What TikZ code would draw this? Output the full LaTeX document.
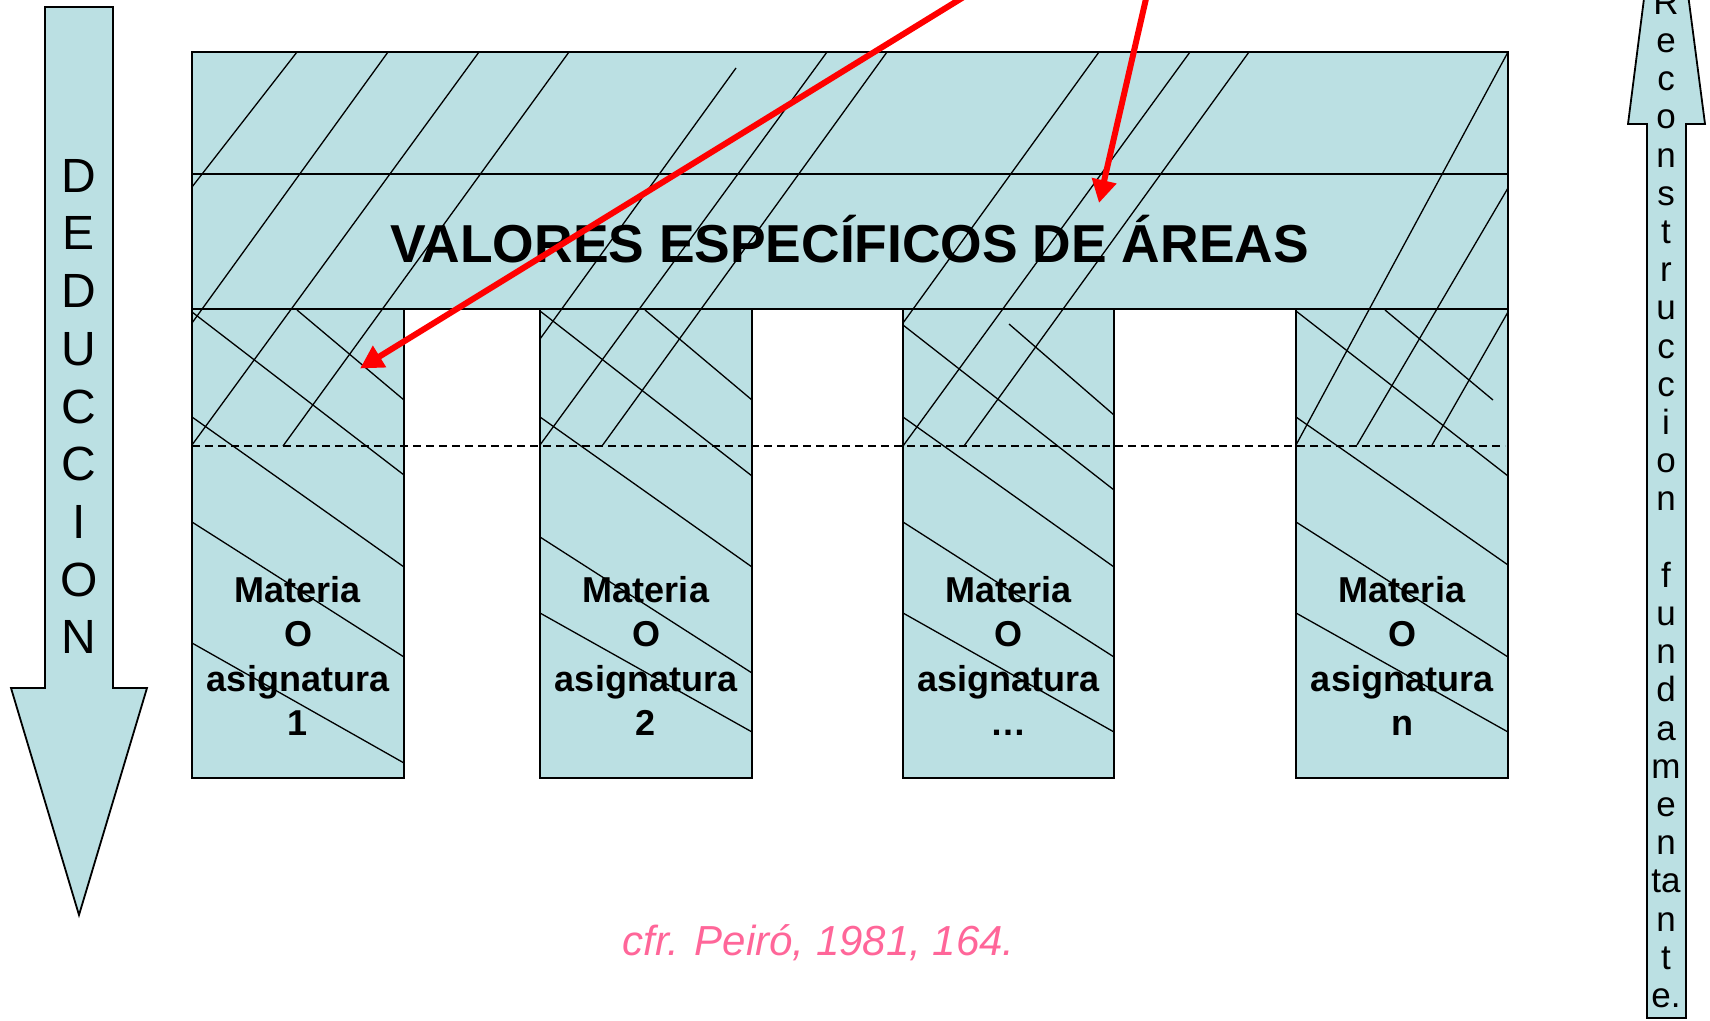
\documentclass[tikz,border=0pt]{standalone}
\usepackage{xcolor}
\usepackage{fontspec}
\setmainfont{Liberation Sans}
\usepackage{tikz}
\usetikzlibrary{calc}
\usetikzlibrary{arrows}
\usetikzlibrary{arrows.meta}
\usetikzlibrary{positioning}
\tikzset{>=latex}
\definecolor{areafill}{RGB}{187,224,227}
\definecolor{citepink}{RGB}{255,102,153}
\tikzstyle{panel} = [fill = areafill]
\tikzstyle{outline} = [draw = black, line width = 1.8pt]
\tikzstyle{hatch} = [draw = black, line width = 1.3pt]
\tikzstyle{dashline} = [draw = black, line width = 1.5pt, dash pattern = on 8pt off 5pt]
\tikzstyle{bigarrow} = [draw = black, line width = 1.8pt, fill = areafill]
\tikzstyle{pointer} = [draw = red, line width = 6pt, -{Triangle[length = 23pt, width = 24pt]}]
\tikzstyle{subject} = [align = center, inner sep = 0, anchor = north, font = \fontsize{36}{44.5}\selectfont\bfseries]

\begin{document}
\begin{tikzpicture}[x = 1pt, y = -1pt]
\useasboundingbox (0, 0) rectangle (1710, 1020);
\clip (0, 0) rectangle (1710, 1020);

\fill [panel] (192, 52) rectangle (1508, 309);
\fill [panel] (192, 309) rectangle (404, 778);
\fill [panel] (540, 309) rectangle (752, 778);
\fill [panel] (903, 309) rectangle (1114, 778);
\fill [panel] (1296, 309) rectangle (1508, 778);

\draw [hatch] (297, 52) -- (192, 187) (388, 52) -- (192, 323) (479, 52) -- (192, 445) (569, 52) -- (283, 446)
  (736, 68) -- (540, 339) (827, 52) -- (540, 445) (887, 52) -- (602, 446)
  (1099, 52) -- (903, 323) (1190, 52) -- (903, 446) (1249, 52) -- (964, 446)
  (1508, 52) -- (1296, 445) (1508, 188) -- (1357, 445) (1508, 312) -- (1432, 445);
\draw [hatch] (192, 312) -- (404, 475) (297, 310) -- (404, 400) (192, 417) -- (404, 567) (192, 522) -- (404, 657) (192, 643) -- (404, 763)
  (540, 311) -- (752, 476) (645, 310) -- (752, 400) (540, 417) -- (752, 567) (540, 537) -- (752, 673) (540, 613) -- (752, 732)
  (903, 325) -- (1114, 490) (1009, 324) -- (1114, 415) (903, 417) -- (1114, 567) (903, 522) -- (1114, 657) (903, 613) -- (1114, 732)
  (1296, 311) -- (1508, 476) (1385, 310) -- (1493, 400) (1296, 417) -- (1508, 565) (1296, 522) -- (1508, 657) (1296, 613) -- (1508, 732);
\draw [dashline] (192, 446) -- (1505, 446);

\draw [outline] (192, 52) rectangle (1508, 309);
\draw [outline] (192, 174) -- (1508, 174);
\draw [outline] (192, 309) rectangle (404, 778);
\draw [outline] (540, 309) rectangle (752, 778);
\draw [outline] (903, 309) rectangle (1114, 778);
\draw [outline] (1296, 309) rectangle (1508, 778);

\draw [bigarrow] (45, 7) -- (113, 7) -- (113, 688) -- (147, 688) -- (79, 915) -- (11, 688) -- (45, 688) -- cycle;
\draw [bigarrow] (1647, 1018) -- (1647, 124) -- (1628, 124) -- (1666, -174) -- (1705, 124) -- (1686, 124) -- (1686, 1018) -- cycle;

\node [inner sep = 0, anchor = base, font = \fontsize{53.4}{60}\selectfont\bfseries] (valores) at (849.5, 262) {VALORES ESPECÍFICOS DE ÁREAS};
\node [subject] (materia1) at (298, 576) {Materia\\O\\asignatura\\1};
\node [subject] (materia2) at (646, 576) {Materia\\O\\asignatura\\2};
\node [subject] (materia3) at (1008.5, 576) {Materia\\O\\asignatura\\…};
\node [subject] (materian) at (1402, 576) {Materia\\O\\asignatura\\n};
\node [inner sep = 0, anchor = north, align = center, font = \fontsize{48}{57.7}\selectfont] (deduccion) at (79, 159) {D\\E\\D\\U\\C\\C\\I\\O\\N};
\node [inner sep = 0, anchor = north, align = center, font = \fontsize{35}{38.2}\selectfont] (reconstruccion) at (1666, -10) {R\\e\\c\\o\\n\\s\\t\\r\\u\\c\\c\\i\\o\\n\\[38.2pt]f\\u\\n\\d\\a\\m\\e\\n\\ta\\n\\t\\e.};
\node [inner sep = 0, anchor = base, text = citepink, font = \fontsize{42}{48}\selectfont\itshape] (cita) at (818.5, 955) {cfr. Peiró, 1981, 164.};

\coordinate (from1) at (975, -10);
\coordinate (to1) at (360, 368.5);
\coordinate (from2) at (1148, -10);
\coordinate (to2) at (1099, 203);
\draw [pointer] (from1) -- (to1);
\draw [pointer] (from2) -- (to2);
\end{tikzpicture}
\end{document}
